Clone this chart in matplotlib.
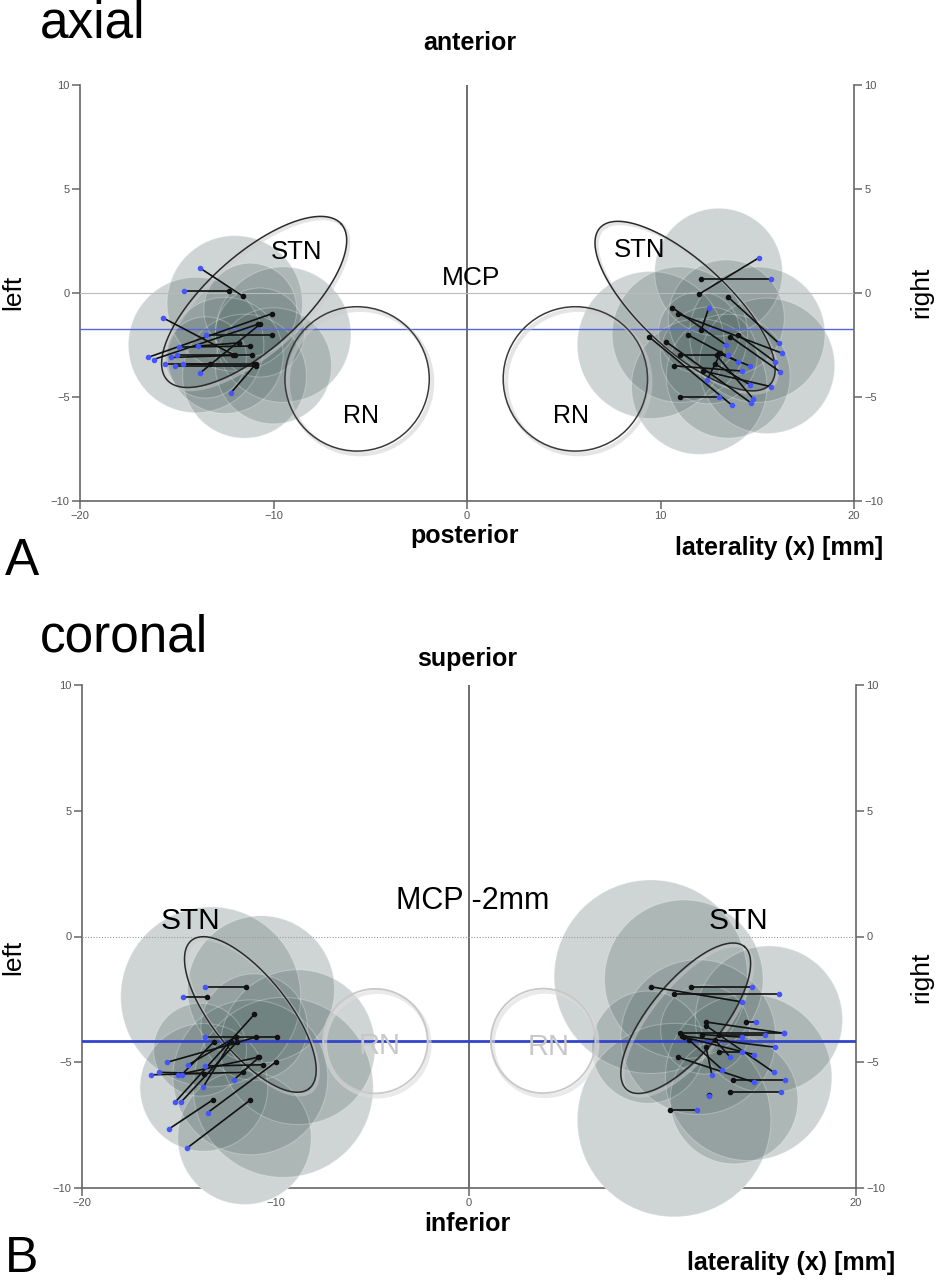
#Posición de los contactos respecto al STN (vistas axial y coronal)
import numpy as np
import matplotlib
matplotlib.use('Agg')
import matplotlib.pyplot as plt
from matplotlib.patches import Ellipse

plt.rcParams['font.family'] = ['Liberation Sans', 'DejaVu Sans']

#---------------- datos panel A (axial) ----------------
#discos grises: centro x, centro y, radio (mm)
axial_disc_x = [-12.0, -14.0, -9.5, -11.5, -11.2, -10.7, -13.5, -12.5, -10.0,
                13.0, 11.0, 9.5, 15.0, 15.5, 12.0, 13.5, 12.0, 13.4, 12.5]
axial_disc_y = [-0.5, -2.5, -2.0, -4.0, -0.8, -1.9, -3.1, -3.0, -3.5,
                1.0, -2.0, -2.5, -2.0, -3.5, -4.5, -4.0, -1.9, -1.2, -3.0]
axial_disc_r = [3.5, 3.5, 3.5, 3.2, 2.4, 2.3, 2.1, 3.0, 3.0,
                3.3, 3.5, 3.8, 3.5, 3.5, 3.5, 3.2, 2.1, 3.0, 2.5]

#segmentos: extremo negro -> extremo azul
axial_black_x = [-11.6, -12.3, -12.0, -10.1, -10.8, -10.1, -11.2, -11.8, -11.1, -12.1,
                 -11.0, -10.9, -13.3, -10.7, -10.9,
                 12.0, 12.1, 13.5, 10.6, 10.9, 12.1, 9.4, 11.4, 13.6, 14.0,
                 10.3, 11.0, 10.7, 12.2, 12.8, 13.0, 11.0, 13.1, 12.9]
axial_black_y = [-0.14, 0.1, -3.0, -1.0, -1.5, -2.0, -2.55, -2.4, -3.0, -3.0,
                 -3.4, -3.5, -3.4, -1.5, -3.4,
                 -0.05, 0.67, -0.2, -0.7, -1.0, -1.8, -2.1, -2.0, -2.1, -2.0,
                 -2.35, -3.0, -3.5, -3.75, -3.4, -2.9, -5.0, -2.9, -3.0]
axial_blue_x = [-13.8, -14.6, -15.7, -16.5, -16.2, -13.5, -14.9, -13.9, -15.0, -15.3,
                -15.6, -15.1, -14.7, -13.8, -12.2,
                15.1, 15.7, 16.1, 13.4, 16.3, 12.5, 13.7, 14.0, 16.2, 15.9,
                14.7, 13.5, 14.2, 15.7, 14.6, 14.6, 13.0, 12.4, 14.8]
axial_blue_y = [1.2, 0.1, -1.2, -3.1, -3.2, -2.0, -2.6, -2.55, -3.0, -3.1,
                -3.4, -3.5, -3.4, -3.85, -4.8,
                1.7, 0.67, -2.4, -2.5, -2.9, -0.7, -5.4, -3.3, -3.8, -3.3,
                -5.3, -3.0, -3.75, -4.5, -4.4, -3.5, -5.0, -4.2, -5.1]

#STN: centro, semieje mayor y semieje menor (vectores en mm)
axial_stn_cx = [-11.0, 11.27]
axial_stn_cy = [-0.43, -0.63]
axial_stn_major = [(4.5, 3.75), (4.39, -3.77)]
axial_stn_minor = [(-1.62, 1.69), (1.55, 1.55)]
#RN: centro y radio
axial_rn_x = [-5.68, 5.6]
axial_rn_y = [-4.13, -4.13]
axial_rn_r = 3.73
axial_blue_level = -1.73

#---------------- datos panel B (coronal) ----------------
coronal_disc_x = [-13.35, -10.75, -11.1, -13.9, -13.7, -9.6, -8.85, -11.3, -11.6,
                  9.4, 11.1, 15.5, 12.2, 13.7, 11.85, 10.6, 9.25, 14.45]
coronal_disc_y = [-2.4, -2.1, -3.6, -4.5, -6.0, -6.0, -4.4, -5.6, -8.0,
                  -1.6, -1.7, -3.3, -3.7, -6.5, -4.0, -7.3, -4.4, -5.6]
coronal_disc_r = [4.65, 3.8, 2.75, 2.4, 3.3, 4.65, 4.0, 4.0, 3.45,
                  5.0, 4.1, 3.8, 2.3, 3.3, 4.0, 5.0, 2.9, 4.3]

coronal_black_x = [-11.5, -13.55, -9.9, -11.1, -11.0, -12.05, -10.65, -11.7, -13.7,
                   -10.9, -12.3, -12.0, -10.85, -13.25, -10.0, -11.3, -13.2,
                   11.45, 9.4, 10.6, 14.3, 12.25, 10.9, 11.0, 12.25, 11.1, 12.9,
                   10.8, 13.65, 13.5, 10.4, 12.25, 11.35, 12.05, 12.7, 12.9, 12.4]
coronal_black_y = [-2.0, -2.4, -4.0, -3.1, -4.0, -4.0, -5.1, -5.4, -5.45,
                   -4.8, -4.2, -4.2, -4.8, -6.5, -5.0, -6.5, -4.2,
                   -2.0, -2.0, -2.3, -3.4, -3.4, -3.85, -3.95, -3.55, -4.0, -4.6,
                   -4.8, -5.7, -6.2, -6.9, -4.4, -4.1, -3.9, -4.1, -3.9, -6.3]
coronal_blue_x = [-13.65, -14.8, -13.65, -15.2, -15.6, -14.5, -13.65, -16.45, -16.0,
                  -15.05, -13.75, -14.9, -12.15, -15.5, -13.5, -14.55, -14.85,
                  14.65, 14.1, 16.0, 14.85, 16.3, 16.3, 15.8, 15.75, 14.75, 14.1,
                  14.75, 16.35, 16.1, 11.8, 12.55, 13.1, 14.1, 13.5, 15.3, 12.4]
coronal_blue_y = [-2.0, -2.4, -4.0, -6.6, -5.0, -5.1, -5.15, -5.5, -5.4,
                  -5.5, -6.0, -6.6, -5.7, -7.65, -7.0, -8.4, -5.5,
                  -2.0, -2.6, -2.3, -3.4, -3.85, -3.85, -4.4, -5.4, -4.7, -4.6,
                  -5.8, -5.7, -6.2, -6.9, -5.5, -5.3, -4.0, -4.8, -3.9, -6.35]

coronal_stn_cx = [-11.3, 11.2]
coronal_stn_cy = [-3.1, -3.25]
coronal_stn_major = [(3.03, -2.95), (3.03, 2.85)]
coronal_stn_minor = [(1.55, 0.93), (1.44, -0.91)]
coronal_rn_x = [-4.84, 3.83]
coronal_rn_y = [-4.16, -4.15]
coronal_rn_r = 2.7
coronal_blue_level = -4.15

W, H = 936, 1280
fig = plt.figure(figsize=(W / 100, H / 100), dpi=100)

def fx(px):
    return px / W

def fy(py):
    return 1 - py / H

def panel(rect, disc_x, disc_y, disc_r, bx, by, ux, uy,
          stn_cx, stn_cy, stn_major, stn_minor, rn_x, rn_y, rn_r,
          blue_level, coronal):
    ax = fig.add_axes(rect)
    ax.set_xlim(-20, 20)
    ax.set_ylim(-10, 10)
    ax.set_xticks([-20, -10, 0, 10, 20])
    ax.set_yticks([-10, -5, 0, 5, 10])
    ax.spines['top'].set_visible(False)
    for s in ['left', 'right', 'bottom']:
        ax.spines[s].set_color('#666666')
        ax.spines[s].set_linewidth(1.2)
    ax.tick_params(axis='both', direction='out', length=5.5, width=1.1,
                   color='#666666', labelsize=8, labelcolor='#555555', pad=2)
    ax.tick_params(axis='y', right=True, labelright=True)

    #relación px/mm para que los discos salgan redondos
    sx = rect[2] * W / 40
    sy = rect[3] * H / 20
    k = sx / sy

    #fondo blanco de los discos (tapan el eje) y luego los discos grises
    for x, y, r in zip(disc_x, disc_y, disc_r):
        ax.add_patch(Ellipse((x, y), 2 * r, 2 * r * k, facecolor='white',
                             edgecolor='none', zorder=3, clip_on=False))
    for x, y, r in zip(disc_x, disc_y, disc_r):
        ax.add_patch(Ellipse((x, y), 2 * r, 2 * r * k, facecolor='#607472',
                             alpha=0.3, edgecolor='none', zorder=3.1, clip_on=False))
        ax.add_patch(Ellipse((x, y), 2 * r, 2 * r * k, fill=False,
                             edgecolor=(1, 1, 1, 0.25), lw=0.8, zorder=3.2, clip_on=False))

    ax.axvline(0, color='#555555', lw=1.2, zorder=2)
    if coronal:
        ax.axhline(0, color='#999999', lw=0.8, ls=(0, (1, 1.5)), zorder=4)
        ax.axhline(blue_level, color='#3344cc', lw=2.0, zorder=5)
    else:
        ax.axhline(0, color='#bbbbbb', lw=0.8, zorder=4)
        ax.axhline(blue_level, color='#5566dd', lw=1.0, zorder=5)

    #RN
    for x, y in zip(rn_x, rn_y):
        if coronal:
            ax.add_patch(Ellipse((x + 0.1, y - 0.12), 2 * rn_r, 2 * rn_r * k, fill=False,
                                 edgecolor='#dddddd', lw=3, alpha=0.6, zorder=5))
            ax.add_patch(Ellipse((x, y), 2 * rn_r, 2 * rn_r * k, fill=False,
                                 edgecolor='#c8c8c8', lw=1.3, zorder=6))
        else:
            ax.add_patch(Ellipse((x + 0.15, y - 0.15), 2 * rn_r, 2 * rn_r * k, fill=False,
                                 edgecolor='#cccccc', lw=3, alpha=0.5, zorder=5))
            ax.add_patch(Ellipse((x, y), 2 * rn_r, 2 * rn_r * k, fill=False,
                                 edgecolor='#3a3a3a', lw=1.1, zorder=6))

    #STN
    t = np.linspace(0, 2 * np.pi, 300)
    for cx, cy, (ax_, ay), (mx, my) in zip(stn_cx, stn_cy, stn_major, stn_minor):
        ex = cx + ax_ * np.cos(t) + mx * np.sin(t)
        ey = cy + ay * np.cos(t) + my * np.sin(t)
        ax.plot(ex + 0.1, ey - 0.1, color='#cccccc', lw=2.5, alpha=0.5, zorder=5.5)
        ax.plot(ex, ey, color='#2a2a2a', lw=1.1, zorder=6)

    #segmentos de los contactos
    for x0, y0, x1, y1 in zip(bx, by, ux, uy):
        ax.plot([x0, x1], [y0, y1], color='#111111', lw=1.2, zorder=7)
    ax.plot(bx, by, 'o', color='#111111', ms=3, zorder=8)
    ax.plot(ux, uy, 'o', color='#4455ff', ms=3, zorder=8)
    return ax

#panel A
axA = panel([fx(80), fy(501), fx(854) - fx(80), (501 - 85) / H],
            axial_disc_x, axial_disc_y, axial_disc_r,
            axial_black_x, axial_black_y, axial_blue_x, axial_blue_y,
            axial_stn_cx, axial_stn_cy, axial_stn_major, axial_stn_minor,
            axial_rn_x, axial_rn_y, axial_rn_r, axial_blue_level, False)
axA.text(-8.8, 1.97, 'STN', fontsize=18.5, ha='center', va='center', zorder=9)
axA.text(8.9, 2.05, 'STN', fontsize=18.5, ha='center', va='center', zorder=9)
axA.text(0.2, 0.72, 'MCP', fontsize=19, ha='center', va='center', zorder=9)
axA.text(-5.5, -5.9, 'RN', fontsize=18, ha='center', va='center', zorder=9)
axA.text(5.4, -5.9, 'RN', fontsize=18, ha='center', va='center', zorder=9)

#panel B
axB = panel([fx(82), fy(1188), fx(856) - fx(82), (1188 - 685) / H],
            coronal_disc_x, coronal_disc_y, coronal_disc_r,
            coronal_black_x, coronal_black_y, coronal_blue_x, coronal_blue_y,
            coronal_stn_cx, coronal_stn_cy, coronal_stn_major, coronal_stn_minor,
            coronal_rn_x, coronal_rn_y, coronal_rn_r, coronal_blue_level, True)
axB.text(-14.4, 0.6, 'STN', fontsize=21.5, ha='center', va='center', zorder=9)
axB.text(13.9, 0.6, 'STN', fontsize=21.5, ha='center', va='center', zorder=9)
axB.text(0.18, 1.43, 'MCP -2mm', fontsize=22, ha='center', va='center', zorder=9)
axB.text(-4.6, -4.37, 'RN', fontsize=21, color='#c8c8c8', ha='center', va='center', zorder=9)
axB.text(4.1, -4.4, 'RN', fontsize=21, color='#c8c8c8', ha='center', va='center', zorder=9)

#textos de la figura
fig.text(fx(40), fy(38), 'axial', fontsize=37, ha='left', va='baseline')
fig.text(fx(5), fy(575), 'A', fontsize=37, ha='left', va='baseline')
fig.text(fx(40), fy(652), 'coronal', fontsize=37, ha='left', va='baseline')
fig.text(fx(5), fy(1272), 'B', fontsize=36, ha='left', va='baseline')

bold = dict(fontsize=18, fontweight='bold', va='baseline')
fig.text(fx(470), fy(50), 'anterior', ha='center', **bold)
fig.text(fx(465), fy(543), 'posterior', ha='center', **bold)
fig.text(fx(883), fy(555), 'laterality (x) [mm]', ha='right', **bold)
fig.text(fx(467), fy(666), 'superior', ha='center', **bold)
fig.text(fx(467), fy(1231), 'inferior', ha='center', **bold)
fig.text(fx(895), fy(1270), 'laterality (x) [mm]', ha='right', **bold)

side = dict(fontsize=19, rotation=90, ha='center', va='center')
fig.text(fx(13), fy(292), 'left', **side)
fig.text(fx(921), fy(292), 'right', **side)
fig.text(fx(13), fy(957), 'left', **side)
fig.text(fx(921), fy(977), 'right', **side)

fig.savefig('out.png', dpi=100)
